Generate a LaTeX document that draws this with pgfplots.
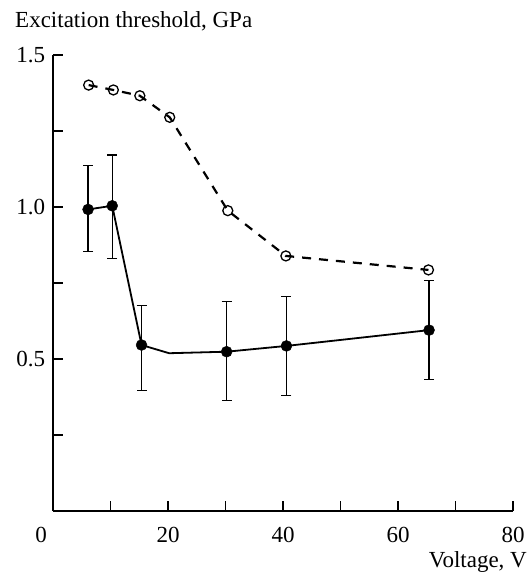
\documentclass[border=0pt]{standalone}
\usepackage{pgfplots}
\pgfplotsset{compat=1.18}
\usepackage{pgfplotstable}
\usepackage{fontspec}
\setmainfont{Liberation Serif}
\pgfplotstableread{
x y ep em
6.1 0.992 0.144 0.139
10.3 1.004 0.167 0.173
15.4 0.546 0.129 0.150
30.2 0.524 0.165 0.161
40.6 0.543 0.162 0.164
65.4 0.595 0.163 0.162
}\solidpts
\pgfplotstableread{
x y
6.1 0.992
10.3 1.004
15.4 0.546
20.2 0.519
30.2 0.524
40.6 0.543
65.4 0.595
}\solidline
\pgfplotstableread{
x y
6.2 1.401
10.5 1.385
15.1 1.366
20.3 1.295
30.4 0.988
40.5 0.839
65.3 0.793
}\openpts
\begin{document}
\begin{tikzpicture}
\fontsize{23bp}{27bp}\selectfont
\path[use as bounding box] (-53bp,-61bp) rectangle (478bp,511bp);
\begin{axis}[
  at={(0,0)}, anchor=south west,
  scale only axis, width=460bp, height=456bp,
  xmin=0, xmax=80, ymin=0, ymax=1.5,
  axis lines=left, axis line style={-, line width=1.4bp},
  tick align=inside,
  major tick length=10bp, minor tick length=10bp,
  tick style={line width=1.2bp, black},
  xtick={20,40,60,80}, xticklabels={20,40,60,80},
  extra x ticks={0}, extra x tick labels={0},
  extra x tick style={major tick length=0bp, xticklabel style={xshift=-12bp}},
  minor xtick={10,30,50,70},
  ytick={0.5,1,1.5}, yticklabels={0.5,1.0,1.5},
  minor ytick={0.25,0.75,1.25},
  /pgf/number format/assume math mode=true,
  tick label style={font=\fontsize{23bp}{27bp}\selectfont},
  xticklabel style={yshift=-8bp},
  clip=false,
]
\addplot[black, line width=1.8bp, no marks] table[x=x,y=y] {\solidline};
\addplot[black, only marks, mark=*, mark size=5.5bp,
  error bars/.cd, y dir=both, y explicit,
  error bar style={line width=1.2bp, black},
  error mark options={rotate=90, mark size=5bp, line width=1.2bp, black}]
  table[x=x,y=y,y error plus=ep,y error minus=em] {\solidpts};
\addplot[black, line width=2.2bp, dash pattern=on 9bp off 8bp, mark=o, mark size=5bp,
  mark options={solid, fill=white, line width=1.3bp}] table[x=x,y=y] {\openpts};
\end{axis}
\node[anchor=base west, inner sep=0pt] at (-38bp,483bp) {Excitation threshold, GPa};
\node[anchor=base east, inner sep=0pt] at (474bp,-56bp) {Voltage, V};
\end{tikzpicture}
\end{document}
